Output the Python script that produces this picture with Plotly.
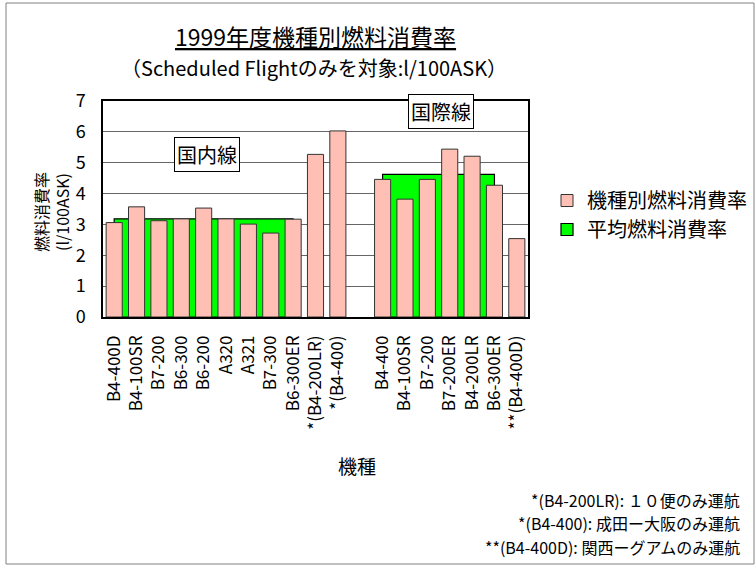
import plotly.graph_objects as go

categories = ["B4-400D", "B4-100SR", "B7-200", "B6-300", "B6-200", "A320", "A321",
              "B7-300", "B6-300ER", "*(B4-200LR)", "*(B4-400)", "",
              "B4-400", "B4-100SR", "B7-200", "B7-200ER", "B4-200LR", "B6-300ER",
              "**(B4-400D)"]
rate_values = [3.06, 3.57, 3.12, 3.18, 3.53, 3.18, 3.01, 2.72, 3.17, 5.27, 6.03, None,
               4.46, 3.82, 4.46, 5.44, 5.21, 4.27, 2.54]
# average rate per route group: (first category index, last category index, value)
avg_groups = [(0, 8, 3.18), (12, 17, 4.62)]
group_labels = ["国内線", "国際線"]
group_label_pos = [(4.15, 5.26), (14.6, 6.67)]
footnotes = ["*(B4-200LR): １０便のみ運航",
             "*(B4-400): 成田ー大阪のみ運航",
             "**(B4-400D): 関西ーグアムのみ運航"]

FONT = "Noto Sans CJK JP, Liberation Sans, sans-serif"
xs = list(range(len(categories)))

W, H = 755, 565
L, R, T, B = 103, 227, 101, 248
pw, ph = W - L - R, H - T - B


def px(x):
    return (x - L) / pw


def py(y):
    return (H - B - y) / ph


fig = go.Figure()
fig.add_trace(go.Bar(
    x=[(a + b) / 2 for a, b, v in avg_groups],
    y=[v for a, b, v in avg_groups],
    width=[b - a for a, b, v in avg_groups],
    name="平均燃料消費率",
    marker=dict(color="#00FF00", line=dict(color="#000000", width=1.2)),
    legendrank=2,
))
fig.add_trace(go.Bar(
    x=xs, y=rate_values, width=0.72,
    name="機種別燃料消費率",
    marker=dict(color="#FFBFB4", line=dict(color="#333333", width=1)),
    legendrank=1,
))

for txt, (gx, gy) in zip(group_labels, group_label_pos):
    fig.add_annotation(x=gx, y=gy, xref="x", yref="y", text=txt, showarrow=False,
                       font=dict(size=20, color="#000", family=FONT),
                       bgcolor="#FFFFFF", bordercolor="#000000", borderwidth=1,
                       borderpad=2)


def note(x, y, text, size, **kw):
    args = dict(x=px(x), y=py(y), xref="paper", yref="paper", text=text,
                showarrow=False, xanchor="center", yanchor="middle",
                font=dict(size=size, color="#000", family=FONT))
    args.update(kw)
    fig.add_annotation(**args)


note(315, 35.5, "<u>1999年度機種別燃料消費率</u>", 23)
note(314, 67, "（Scheduled Flightのみを対象:l/100ASK）", 20)
note(51, 212, "燃料消費率<br>(l/100ASK)", 16, textangle=-90)
note(357, 465, "機種", 19)
for i, t in enumerate(footnotes):
    note(742, 499.5 + 23.5 * i, t, 16, xanchor="right")

fig.add_shape(type="rect", xref="paper", yref="paper",
              x0=px(6), x1=px(754), y0=py(3), y1=py(564),
              line=dict(color="#808080", width=1), fillcolor="rgba(0,0,0,0)", layer="below")

fig.update_layout(
    width=W, height=H,
    margin=dict(l=L, r=R, t=T, b=B, autoexpand=False),
    barmode="overlay",
    paper_bgcolor="#FFFFFF", plot_bgcolor="#FFFFFF",
    font=dict(family=FONT, color="#000"),
    showlegend=True,
    legend=dict(x=px(547), y=py(181), xanchor="left", yanchor="top",
                font=dict(size=20, family=FONT), bgcolor="rgba(0,0,0,0)",
                itemwidth=30, tracegroupgap=0),
    xaxis=dict(range=[-0.5, len(categories) - 0.5], tickmode="array", tickvals=xs,
               ticktext=categories, tickangle=-90, showgrid=False, showline=True,
               linecolor="#000", linewidth=1.5, mirror=True, ticks="",
               ticklabelstandoff=10,
               tickfont=dict(size=17, family=FONT), zeroline=False),
    yaxis=dict(range=[0, 7], dtick=1, showgrid=True, gridcolor="#666666", gridwidth=1,
               showline=True, linecolor="#000", linewidth=1.5, mirror=True, ticks="",
               ticklabelstandoff=12,
               tickfont=dict(size=18, family=FONT), zeroline=False),
)

fig.write_html("out.html", config={"displayModeBar": False},
               post_script="document.body.style.margin='0';")
